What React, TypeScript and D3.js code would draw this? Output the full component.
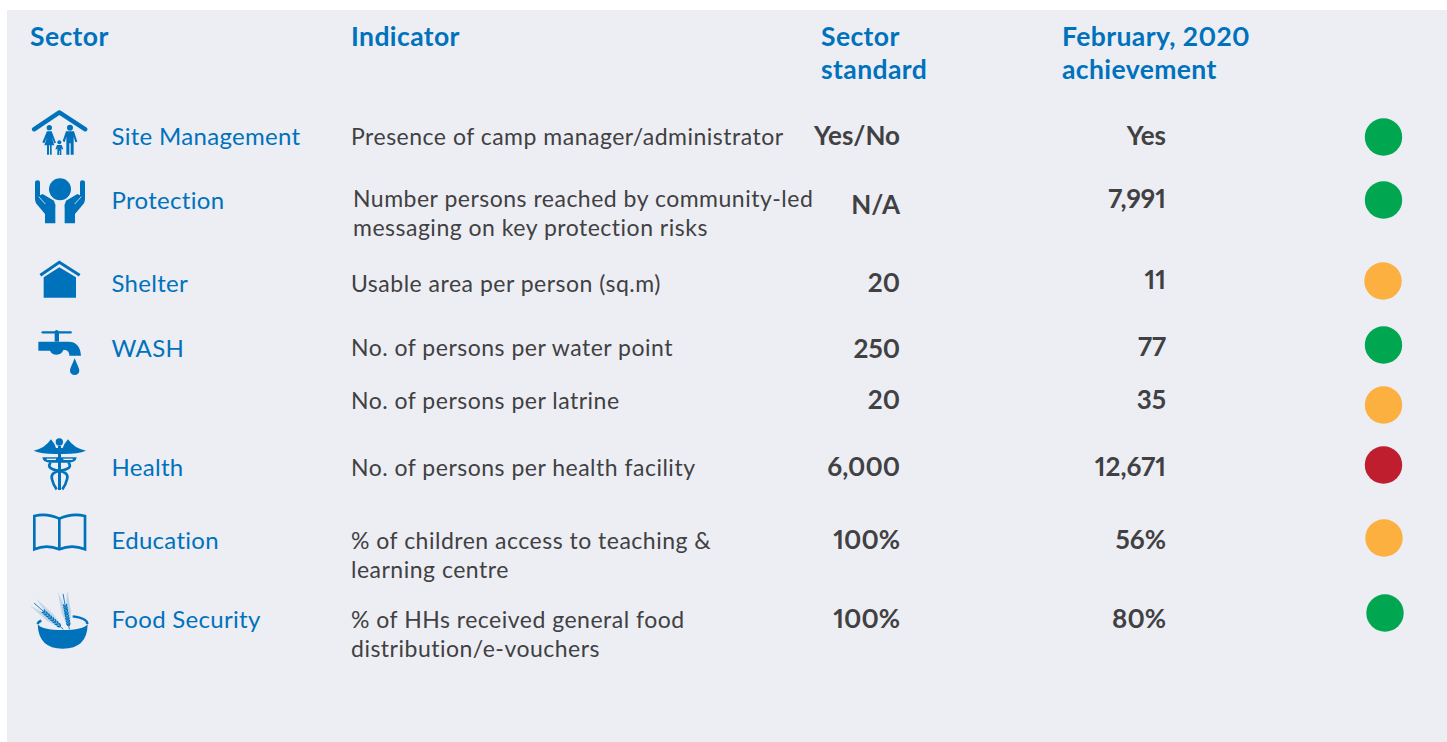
import React, { useEffect, useRef } from "react";
import * as d3 from "d3";

const headers = [["Sector"], ["Indicator"], ["Sector", "standard"], ["February, 2020", "achievement"]];
const rowKeys = ["site", "protection", "shelter", "wash", "latrine", "health", "education", "food"];
const sectors = ["Site Management", "Protection", "Shelter", "WASH", "", "Health", "Education", "Food Security"];
const indicators = [
  ["Presence of camp manager/administrator"],
  ["Number persons reached by community-led", "messaging on key protection risks"],
  ["Usable area per person (sq.m)"],
  ["No. of persons per water point"],
  ["No. of persons per latrine"],
  ["No. of persons per health facility"],
  ["% of children access to teaching &", "learning centre"],
  ["% of HHs received general food", "distribution/e-vouchers"],
];
const standards = ["Yes/No", "N/A", "20", "250", "20", "6,000", "100%", "100%"];
const achievements = ["Yes", "7,991", "11", "77", "35", "12,671", "56%", "80%"];
const statuses = ["good", "good", "warn", "good", "warn", "bad", "warn", "good"];

// layout, kept apart from the data
const W = 1447, H = 742;
const sectorY = [145, 209, 292, 357, 0, 476, 549, 628];
const indicatorY = [145, 207, 292, 356, 409, 476, 549, 628];
const indicatorX = [351, 353, 351, 351, 351, 351, 351, 351];
const standardY = [145, 214, 292, 358, 409, 476, 549, 628];
const achieveY = [145, 208, 289, 356, 409, 476, 549, 628];
const dotY = [137, 200, 281, 345, 405, 465, 538, 613];
const dotX = [1383.5, 1383.5, 1383, 1383.5, 1383.5, 1383.5, 1384, 1385];

const BLUE = "#0072BC";
const DARK = "#414042";
const BG = "#ECEEF4";
const FONT = "Lato, sans-serif";

const statusColor = d3.scaleOrdinal<string, string>().domain(["good", "warn", "bad"]).range(["#00A650", "#FBB040", "#BE1E2D"]);
const yDot = d3.scaleOrdinal<string, number>().domain(rowKeys).range(dotY);
const xDot = d3.scaleOrdinal<string, number>().domain(rowKeys).range(dotX);

const wheat = (x0: number, y0: number, angle: number, len: number) => {
  const seeds = d3.range(0, 8);
  return (
    <g transform={`translate(${x0},${y0}) rotate(${angle})`}>
      <line x1={0} y1={0} x2={0} y2={-len} stroke={BLUE} strokeWidth={2.5} />
      {seeds.map((i) => {
        const y = -len * 0.14 - i * len * 0.075;
        return (
          <g key={i}>
            <ellipse cx={-3.5} cy={y} rx={2.4} ry={5.5} fill={BLUE} transform={`rotate(-25 -3.5 ${y})`} />
            <ellipse cx={3.5} cy={y} rx={2.4} ry={5.5} fill={BLUE} transform={`rotate(25 3.5 ${y})`} />
            <line x1={-4} y1={y} x2={-14} y2={y - 40} stroke={BLUE} strokeWidth={0.8} opacity={0.5} />
            <line x1={4} y1={y} x2={14} y2={y - 40} stroke={BLUE} strokeWidth={0.8} opacity={0.5} />
          </g>
        );
      })}
    </g>
  );
};

const Hand = () => (
  <g>
    <path
      d="M105 278 A7.5 7.5 0 0 1 120 278 L120 316 L128 312 L162 332 Q168 342 166 358 L166 400 L135 400 L135 372 L108 340 Q105 335 105 325 Z"
      fill={BLUE}
    />
    <path d="M116 320 L136 342" stroke={BG} strokeWidth={2.5} fill="none" />
  </g>
);

const IconsTop = () => (
  <g transform="translate(0,90) scale(0.33333)" fill={BLUE}>
    {/* site management */}
    <polyline points="102,118 178,67 256,118" fill="none" stroke={BLUE} strokeWidth={13} strokeLinecap="round" strokeLinejoin="round" />
    <circle cx={148} cy={113} r={8} />
    <path d="M141 124 H155 L168 158 L163 160 L155 142 L163 166 H155 V194 H150 V166 H147 V194 H141 V166 H133 L141 142 L133 160 L127 157 Z" />
    <circle cx={210} cy={113} r={9} />
    <path d="M198 124 H222 L232 155 L226 157 L221 140 V194 H212 V160 H208 V194 H199 V140 L194 157 L188 153 Z" />
    <circle cx={178} cy={157} r={6} />
    <path d="M171 165 H185 L190 178 L185 178 L184 172 V195 H179 V182 H177 V195 H172 V172 L171 178 L166 178 Z" />
    {/* protection */}
    <circle cx={180} cy={298} r={33} />
    <Hand />
    <g transform="translate(360,0) scale(-1,1)"><Hand /></g>
    {/* shelter */}
    <polyline points="121,556 178,517 239,556" fill="none" stroke={BLUE} strokeWidth={9} strokeLinejoin="miter" />
    <polygon points="131,562 178,532 228,562 228,623 131,623" />
    {/* wash */}
    <line x1={128} y1={727} x2={212} y2={727} stroke={BLUE} strokeWidth={7} strokeLinecap="round" />
    <circle cx={170} cy={726} r={6} />
    <rect x={164} y={727} width={13} height={28} />
    <path d="M115 755 H205 Q240 755 243 797 H208 Q208 782 195 780 H190 Q185 794 170 794 Q155 794 150 782 H115 Z" />
    <path d="M224 805 C216 825 210 835 210 842 A14 13 0 0 0 238 842 C238 835 232 825 224 805 Z" />
  </g>
);

const IconsBottom = () => (
  <g transform="translate(0,420) scale(0.33333)" fill={BLUE}>
    {/* health */}
    <circle cx={178} cy={66} r={11} />
    <path d="M101 92 Q135 85 153 58 Q165 72 168 84 H188 Q192 72 204 58 Q222 85 258 92 Q235 102 190 102 H166 Q125 102 101 92 Z" />
    <rect x={174} y={78} width={9} height={132} />
    <path d="M127 112 H230 Q228 128 205 128 H152 Q129 128 127 112 Z" />
    <rect x={140} y={116} width={28} height={4} fill={BG} />
    <rect x={190} y={116} width={28} height={4} fill={BG} />
    <path d="M205 128 Q222 146 178 152 Q150 158 156 178 Q160 196 170 208 M152 128 Q136 146 178 152 Q208 158 201 178 Q197 196 187 208"
      fill="none" stroke={BLUE} strokeWidth={8} />
    {/* education */}
    <path d="M103 388 V288 Q140 278 178 296 Q216 278 255 288 V388 Q216 372 178 388 Q140 372 103 388 Z" fill="none" stroke={BLUE} strokeWidth={8} />
    <line x1={178} y1={296} x2={178} y2={388} stroke={BLUE} strokeWidth={8} />
    {/* food */}
    {wheat(190, 628, -48, 118)}
    {wheat(208, 628, -10, 108)}
    <path d="M218 589 Q263 595 262 612" fill="none" stroke={BLUE} strokeWidth={7} />
    <path d="M113 612 Q114 606 124 602" fill="none" stroke={BLUE} strokeWidth={7} />
    <path d="M113 612 Q125 630 188 630 Q250 630 263 612 Q262 686 188 686 Q115 686 113 612 Z" />
  </g>
);

export default function App() {
  const ref = useRef<SVGSVGElement>(null);

  useEffect(() => {
    const svg = d3.select(ref.current);
    const g = svg.select<SVGGElement>("g.marks");
    g.selectAll("*").remove();

    const text = (x: number, y: number, s: string, o: { size: number; weight?: number; fill: string; anchor?: string; ls?: number }) =>
      g.append("text")
        .attr("x", x).attr("y", y)
        .attr("font-family", FONT)
        .attr("font-size", o.size)
        .attr("font-weight", o.weight ?? 400)
        .attr("fill", o.fill)
        .attr("text-anchor", o.anchor ?? "start")
        .attr("letter-spacing", o.ls ?? 0)
        .style("font-variant-numeric", "proportional-nums")
        .text(s);

    const headX = [30, 351, 821, 1062];
    headers.forEach((lines, i) =>
      lines.forEach((s, j) => text(headX[i], 45.5 + j * 33, s, { size: 26.5, weight: 700, fill: BLUE, ls: 0.4 }))
    );

    rowKeys.forEach((k, i) => {
      if (sectors[i]) text(111.5, sectorY[i], sectors[i], { size: 24, fill: BLUE, ls: 0.3 });
      indicators[i].forEach((s, j) => text(indicatorX[i], indicatorY[i] + j * 29, s, { size: 23, fill: DARK, ls: 0.5 }));
      text(900, standardY[i], standards[i], { size: 26, weight: 700, fill: DARK, anchor: "end" });
      text(1166, achieveY[i], achievements[i], { size: 26, weight: 700, fill: DARK, anchor: "end" });
      g.append("circle").attr("cx", xDot(k)).attr("cy", yDot(k)).attr("r", 18.7).attr("fill", statusColor(statuses[i]));
    });
  }, []);

  return (
    <svg ref={ref} width={W} height={H} style={{ position: "absolute", left: 0, top: 0, background: "#fff" }}>
      <rect x={7} y={10} width={W - 7} height={H - 10} fill={BG} />
      <IconsTop />
      <IconsBottom />
      <g className="marks" />
    </svg>
  );
}
